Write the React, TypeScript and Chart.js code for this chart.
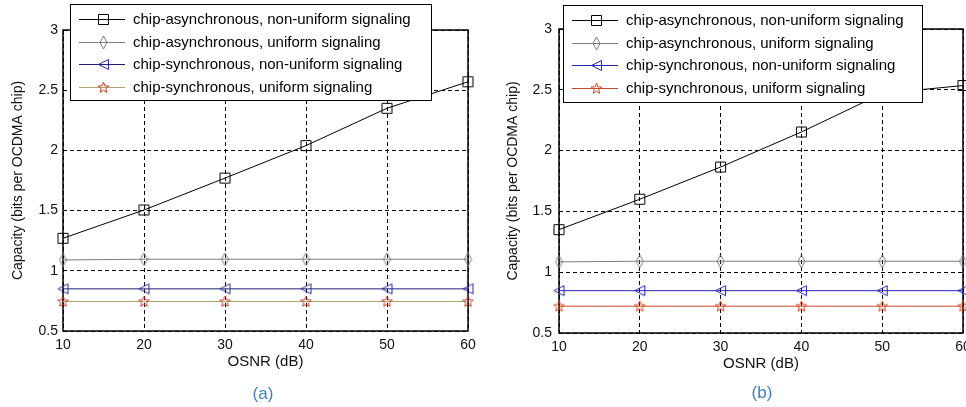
import React, { useEffect, useRef } from 'react';
import { Chart, registerables } from 'chart.js';

Chart.register(...registerables);

// ---------- data ----------
const osnrDb = [10, 20, 30, 40, 50, 60];
const capacityTicks = [0.5, 1, 1.5, 2, 2.5, 3];
const seriesLabels = [
  'chip-asynchronous, non-uniform signaling',
  'chip-asynchronous, uniform signaling',
  'chip-synchronous, non-uniform signaling',
  'chip-synchronous, uniform signaling',
];

// panel (a)
const asyncNonUniformA = [1.27, 1.505, 1.77, 2.04, 2.35, 2.57];
const asyncUniformA = [1.09, 1.096, 1.096, 1.096, 1.096, 1.096];
const syncNonUniformA = [0.85, 0.85, 0.85, 0.85, 0.85, 0.85];
const syncUniformA = [0.745, 0.745, 0.745, 0.745, 0.745, 0.745];

// panel (b)
const asyncNonUniformB = [1.35, 1.6, 1.865, 2.153, 2.47, 2.535];
const asyncUniformB = [1.085, 1.09, 1.09, 1.09, 1.09, 1.09];
const syncNonUniformB = [0.848, 0.848, 0.848, 0.848, 0.848, 0.848];
const syncUniformB = [0.72, 0.72, 0.72, 0.72, 0.72, 0.72];

const FONT = '"Liberation Sans", Arial, Helvetica, sans-serif';
Chart.defaults.font.family = FONT;

type MarkerKind = 'square' | 'diamond' | 'triLeft' | 'star';

function makeMarker(kind: MarkerKind, color: string): HTMLCanvasElement {
  const c = document.createElement('canvas');
  let w = 13, h = 13;
  if (kind === 'diamond') { w = 9; h = 15; }
  c.width = w; c.height = h;
  const g = c.getContext('2d')!;
  g.strokeStyle = color;
  g.lineWidth = 1;
  g.beginPath();
  if (kind === 'square') {
    g.rect(1.5, 1.5, 10, 10);
  } else if (kind === 'diamond') {
    g.moveTo(4.5, 1); g.lineTo(8, 7.5); g.lineTo(4.5, 14); g.lineTo(1, 7.5); g.closePath();
  } else if (kind === 'triLeft') {
    g.moveTo(1.5, 6.5); g.lineTo(11.5, 1.5); g.lineTo(11.5, 11.5); g.closePath();
  } else {
    for (let i = 0; i < 10; i++) {
      const a = -Math.PI / 2 + (i * Math.PI) / 5;
      const r = i % 2 ? 2.4 : 5.6;
      const px = 6.5 + r * Math.cos(a), py = 6.8 + r * Math.sin(a);
      if (i === 0) g.moveTo(px, py); else g.lineTo(px, py);
    }
    g.closePath();
  }
  g.stroke();
  return c;
}

const frameLegendPlugin = {
  id: 'frameLegend',
  beforeDatasetsDraw(chart: any) {
    const { ctx, chartArea: a } = chart;
    ctx.save();
    ctx.strokeStyle = '#000';
    ctx.lineWidth = 1.5;
    ctx.strokeRect(a.left, a.top, a.right - a.left, a.bottom - a.top);
    ctx.restore();
  },
  afterDraw(chart: any, _args: any, opts: any) {
    const { ctx } = chart;
    const { x, y, w, h } = opts.box;
    ctx.save();
    ctx.fillStyle = '#fff';
    ctx.fillRect(x, y, w, h);
    ctx.strokeStyle = '#000';
    ctx.lineWidth = 1;
    ctx.strokeRect(x + 0.5, y + 0.5, w, h);
    chart.data.datasets.forEach((ds: any, i: number) => {
      const ry = Math.round(y + 15 + i * 22.7) + 0.5;
      ctx.strokeStyle = ds.borderColor;
      ctx.lineWidth = 1;
      ctx.beginPath();
      ctx.moveTo(x + 9, ry);
      ctx.lineTo(x + 55, ry);
      ctx.stroke();
      const img = ds.pointStyle as HTMLCanvasElement;
      ctx.drawImage(img, Math.round(x + 33 - img.width / 2), Math.round(ry - img.height / 2));
      ctx.fillStyle = '#000';
      ctx.font = `15px ${FONT}`;
      ctx.textBaseline = 'middle';
      ctx.textAlign = 'left';
      ctx.fillText(ds.label, x + 63, ry);
    });
    ctx.restore();
  },
};

type PanelCfg = {
  series: number[][];
  lineColors: string[];
  markerColors: string[];
  pad: { left: number; top: number; right: number; bottom: number };
  yWidth: number;
  yTitlePad: number;
  yTickPad: number;
  box: { x: number; y: number; w: number; h: number };
};

const markerKinds: MarkerKind[] = ['square', 'diamond', 'triLeft', 'star'];

const panelA: PanelCfg = {
  series: [asyncNonUniformA, asyncUniformA, syncNonUniformA, syncUniformA],
  lineColors: ['#000000', '#7c7c7c', '#1e1e72', '#b0a070'],
  markerColors: ['#000000', '#7c7c7c', '#2c2ca8', '#c2402e'],
  pad: { left: 0, top: 30, right: 15, bottom: 36 },
  yWidth: 63,
  yTitlePad: 10,
  yTickPad: 5,
  box: { x: 70, y: 4, w: 361, h: 96 },
};

const panelB: PanelCfg = {
  series: [asyncNonUniformB, asyncUniformB, syncNonUniformB, syncUniformB],
  lineColors: ['#000000', '#7c7c7c', '#2424b8', '#c44c2e'],
  markerColors: ['#000000', '#7c7c7c', '#2424c0', '#e2431c'],
  pad: { left: 0, top: 29, right: 3, bottom: 34 },
  yWidth: 76,
  yTitlePad: 22,
  yTickPad: 7,
  box: { x: 80, y: 5, w: 359, h: 97 },
};

function Panel({ cfg, left }: { cfg: PanelCfg; left: number }) {
  const ref = useRef<HTMLCanvasElement | null>(null);
  useEffect(() => {
    const canvas = ref.current!;
    const datasets = cfg.series.map((vals, i) => ({
      label: seriesLabels[i],
      data: osnrDb.map((x, j) => ({ x, y: vals[j] })),
      borderColor: cfg.lineColors[i],
      backgroundColor: 'transparent',
      borderWidth: 1,
      tension: 0,
      pointStyle: makeMarker(markerKinds[i], cfg.markerColors[i]) as any,
      pointRadius: 6,
      clip: false as any,
    }));
    const chart = new Chart(canvas, {
      type: 'line',
      data: { datasets },
      plugins: [frameLegendPlugin as any],
      options: {
        animation: false,
        responsive: false,
        maintainAspectRatio: false,
        events: [],
        layout: { padding: cfg.pad, autoPadding: false },
        plugins: {
          legend: { display: false },
          tooltip: { enabled: false },
          frameLegend: { box: cfg.box },
        } as any,
        scales: {
          x: {
            type: 'linear',
            min: 10,
            max: 60,
            afterBuildTicks: (s: any) => { s.ticks = osnrDb.map((v) => ({ value: v })); },
            afterFit: (s: any) => { s.height = 40; s.paddingLeft = 0; s.paddingRight = 0; },
            ticks: { color: '#111', font: { size: 14 }, padding: 6, maxRotation: 0, autoSkip: false, callback: (v: any) => String(v) },
            grid: { color: '#000', lineWidth: 1, drawTicks: false },
            border: { display: false, dash: [4, 3] },
            title: { display: true, text: 'OSNR (dB)', color: '#111', font: { size: 15 }, padding: { top: 0, bottom: 0 } },
          },
          y: {
            type: 'linear',
            min: 0.5,
            max: 3,
            afterBuildTicks: (s: any) => { s.ticks = capacityTicks.map((v) => ({ value: v })); },
            afterFit: (s: any) => { s.width = cfg.yWidth; s.paddingTop = 0; s.paddingBottom = 0; },
            ticks: { color: '#111', font: { size: 14 }, padding: cfg.yTickPad, autoSkip: false, callback: (v: any) => String(v) },
            grid: { color: '#000', lineWidth: 1, drawTicks: false },
            border: { display: false, dash: [4, 3] },
            title: { display: true, text: 'Capacity (bits per OCDMA chip)', color: '#111', font: { size: 14 }, padding: { top: cfg.yTitlePad, bottom: 0 } },
          },
        },
      } as any,
    });
    return () => chart.destroy();
  }, [cfg]);
  return (
    <canvas
      ref={ref}
      width={483}
      height={407}
      style={{ position: 'absolute', left, top: 0, width: 483, height: 407, display: 'block' }}
    />
  );
}

const captionStyle: React.CSSProperties = {
  position: 'absolute',
  transform: 'translate(-50%, -50%)',
  fontFamily: FONT,
  fontSize: 17,
  lineHeight: 1,
  color: '#3f7fc0',
  whiteSpace: 'nowrap',
};

export default function App() {
  return (
    <div style={{ position: 'fixed', left: 0, top: 0, width: 966, height: 407, background: '#fff', overflow: 'hidden' }}>
      <Panel cfg={panelA} left={0} />
      <Panel cfg={panelB} left={483} />
      <div style={{ ...captionStyle, left: 263, top: 393 }}>(a)</div>
      <div style={{ ...captionStyle, left: 762, top: 392 }}>(b)</div>
    </div>
  );
}
